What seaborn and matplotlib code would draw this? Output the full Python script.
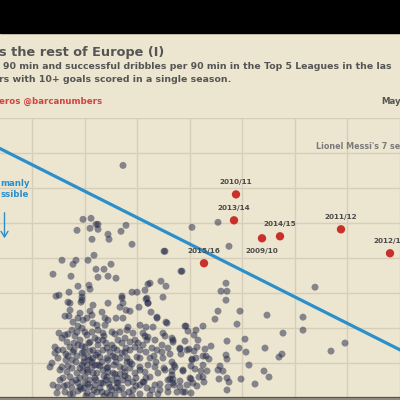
import numpy as np
import pandas as pd
import matplotlib
matplotlib.use("Agg")
import matplotlib.pyplot as plt
import seaborn as sns
from matplotlib.patches import Rectangle, FancyArrowPatch

# ---------------- data (chart units: x ~ goals/90 scale, y ~ dribbles/90 scale) -------------
other_x = [123, 83, 91, 77, 90, 96, 98, 98, 92, 108, 109, 121, 126, 132, 165, 192, 94,
           218, 229, 62, 76, 88, 73,
           53, 71, 96, 104, 111, 98, 108, 116, 78, 89, 90, 56, 59, 69, 82, 82, 122, 132, 137,
           148, 150, 161, 166, 164, 145, 181, 163, 147, 148,
           182, 226, 221, 227, 226, 315, 218, 215, 240, 267, 237, 303, 303, 203, 196, 186, 188,
           283, 245, 227, 345, 331, 172, 173, 185, 198, 194, 211, 205, 197, 194, 239, 246, 265,
           282, 279, 226, 227, 180, 181, 189, 192, 196, 203, 206, 209, 249, 220, 218, 223, 264,
           269, 174, 172, 183, 191, 195, 201, 203, 207, 227, 229, 219, 241, 255, 170, 173, 180,
           191, 199, 203, 204, 197, 174, 187, 183, 191, 227, 167, 157, 146,
           68, 70, 81, 82, 93, 108, 122, 123, 120, 126, 130, 139, 146, 148, 151, 70, 69, 80, 90,
           92, 102, 105, 108, 116, 123, 65,
           73, 78, 83, 93, 97, 59, 65, 72, 77, 82, 87, 98, 103, 112, 120, 127, 128, 133, 140, 143,
           148, 153, 157, 166, 163,
           55, 58, 55, 67, 70, 63, 73, 68, 80, 85, 90, 93, 82, 88, 98, 103, 107, 112, 117, 122,
           125, 130, 135, 140, 143, 147, 152, 157, 162, 168, 173, 100, 107, 115, 127, 137, 150,
           163, 52, 50,
           62, 67, 72, 77, 63, 70, 82, 87, 92, 93, 85, 90, 98, 103, 108, 113, 107, 117, 120, 125,
           130, 135, 140, 145, 150, 155, 158, 165, 172, 175, 123, 133, 143,
           53, 58, 57, 67, 72, 65, 73, 78, 80, 85, 90, 95, 87, 97, 103, 110, 117, 107, 122, 128,
           133, 140, 147, 155, 160, 168, 173, 177, 110, 140, 168,
           78, 84, 90, 96, 102, 108, 114, 120, 88, 95, 100, 112, 118, 125, 84, 76, 92, 104, 130,
           136, 72, 80, 98, 110, 118, 126, 92, 105, 87, 78, 95, 106, 84, 74, 115, 129, 60, 66,
           140, 146, 185, 180, 187, 192, 183, 190, 180, 193, 185,
           62, 68, 75, 85, 95, 104, 115, 125, 135, 145, 155, 165,
           58, 66, 74, 82, 90, 98, 106, 114, 122, 130, 138, 146, 154, 162, 170,
           60, 68, 76, 84, 92, 100, 108, 116, 124, 132, 140, 148, 156, 164, 172,
           64, 72, 80, 88, 96, 104, 112, 120, 128, 136, 144, 152, 160, 168,
           70, 78, 86, 94, 102, 116, 124, 132, 150, 158,
           77, 83, 89, 97, 103, 109, 113, 119, 127, 93, 87, 101, 81, 107, 115]
other_y = [233, 179, 180, 168, 170, 174, 174, 169, 159, 164, 159, 167, 173, 154, 147, 171, 143,
           176, 152, 138, 138, 138, 134,
           124, 122, 129, 129, 134, 121, 122, 120, 112, 113, 109, 102, 103, 106, 105, 101, 102, 106,
           106, 114, 115, 117, 112, 147, 108, 127, 101, 100, 95,
           127, 115, 107, 107, 98, 111, 87, 79, 87, 83, 74, 81, 68, 72, 68, 72, 67,
           65, 59, 57, 55, 47, 60, 56, 57, 58, 63, 52, 49, 51, 47, 50, 46, 50,
           44, 41, 43, 39, 49, 44, 49, 39, 40, 42, 42, 39, 33, 32, 28, 27, 27,
           21, 33, 27, 27, 32, 29, 27, 33, 27, 20, 16, 19, 19, 14, 19, 19, 17,
           19, 21, 21, 16, 12, 13, 13, 6, 5, 8, 75, 81, 71,
           96, 95, 96, 98, 93, 95, 100, 95, 91, 88, 87, 91, 99, 95, 86, 88, 82, 85, 87,
           83, 86, 80, 78, 80, 80, 82,
           76, 80, 78, 75, 73, 65, 63, 68, 66, 70, 63, 68, 65, 66, 66, 68, 71, 65, 73, 65,
           61, 71, 80, 76, 65,
           51, 48, 45, 56, 51, 48, 46, 42, 58, 51, 56, 48, 45, 41, 53, 58, 50, 53, 48, 55,
           46, 56, 51, 48, 53, 58, 50, 48, 53, 50, 58, 41, 40, 41, 40, 41, 40,
           40, 35, 31,
           31, 26, 30, 25, 20, 21, 33, 28, 31, 25, 21, 18, 33, 28, 31, 25, 21, 20, 31, 26,
           30, 25, 31, 26, 21, 31, 25, 28, 23, 31, 18, 16, 16,
           13, 11, 5, 13, 10, 6, 4, 15, 11, 15, 11, 13, 5, 6, 15, 11, 15, 5, 10, 15,
           8, 13, 10, 13, 8, 11, 15, 6, 3, 4, 6,
           53, 46, 38, 43, 36, 26, 33, 40, 26, 20, 10, 8, 15, 22, 10, 18, 3, 2, 36,
           20, 38, 30, 58, 46, 58, 50, 66, 73, 80, 72, 33, 18, 36, 55, 3, 6, 18, 38,
           40, 20, 72, 50, 48, 38, 28, 20, 11, 15, 6,
           60, 64, 62, 66, 60, 62, 64, 60, 58, 62, 58, 62,
           40, 44, 48, 52, 47, 45, 55, 50, 45, 48, 55, 46, 42, 46, 44,
           28, 32, 36, 40, 36, 32, 38, 36, 30, 34, 28, 33, 36, 30, 36,
           12, 16, 20, 14, 18, 22, 18, 24, 20, 12, 16, 8, 14, 18,
           4, 7, 2, 8, 6, 10, 4, 2, 3, 4,
           42, 27, 55, 25, 48, 14, 42, 8, 36, 40, 33, 15, 9, 30, 24]

messi_seasons = ["2009/10", "2010/11", "2011/12", "2012/13", "2013/14", "2014/15", "2015/16"]
messi_x = [262, 236, 341, 390, 234, 280, 204]
messi_y = [160, 204, 169, 145, 178, 162, 135]
label_below = [True, False, False, False, False, False, False]

trend_x = [-30, 460]
trend_y = [265, 18]

# ---------------- style ----------------
BG = "#ECE5CF"
GRID = "#D6CEB9"
BLUE = "#2B8FCB"
RED = "#C9302C"
NAVY = "#1E2446"
DARK = "#4A4A4A"
TXT = "#555555"

sns.set_theme(style="white")
plt.rcParams["font.family"] = ["DejaVu Sans"]

fig = plt.figure(figsize=(4, 4), dpi=100, facecolor=BG)
ax = fig.add_axes([0, 2 / 400, 1, 280 / 400])
ax.set_facecolor(BG)

others = pd.DataFrame({"x": other_x, "y": other_y})
messi = pd.DataFrame({"x": messi_x, "y": messi_y, "season": messi_seasons})
trend = pd.DataFrame({"x": trend_x, "y": trend_y})

sns.scatterplot(data=others, x="x", y="y", ax=ax, color=NAVY, alpha=0.5, s=25,
                edgecolor="none", zorder=3)
sns.lineplot(data=trend, x="x", y="y", ax=ax, color=BLUE, linewidth=2.3, zorder=4)
sns.scatterplot(data=messi, x="x", y="y", ax=ax, color=RED, s=36, edgecolor="none", zorder=5)

for sx, sy, lab, below in zip(messi_x, messi_y, messi_seasons, label_below):
    off = -13 if below else 12
    ax.annotate(lab, (sx, sy), xytext=(0, off * 0.72), textcoords="offset points",
                ha="center", va="center", fontsize=5.2, fontweight="bold", color=DARK,
                zorder=6, annotation_clip=False)

ax.set_xlim(0, 400)
ax.set_ylim(0, 280.5)
ax.set_xticks(np.arange(32, 401, 52.5))
ax.set_yticks(np.arange(0, 281, 35))
ax.grid(True, color=GRID, linewidth=1.0, zorder=0)
ax.set_axisbelow(True)
ax.tick_params(left=False, bottom=False, labelleft=False, labelbottom=False)
ax.set_xlabel("")
ax.set_ylabel("")
for side in ["top", "left", "right"]:
    ax.spines[side].set_visible(False)
ax.spines["bottom"].set_color("#454545")
ax.spines["bottom"].set_linewidth(1.6)

# frame pieces
fig.patches.append(Rectangle((0, 1 - 33 / 400), 1, 33 / 400, transform=fig.transFigure,
                             color="black", zorder=0))
fig.patches.append(Rectangle((0, 0), 1, 2 / 400, transform=fig.transFigure,
                             color="#8E8A80", zorder=0))

def ft(x, y, s, **kw):
    fig.text(x / 400, 1 - y / 400, s, **kw)

ft(-1, 52.5, "s the rest of Europe (I)", fontsize=9.3, fontweight="bold", color=TXT,
   va="center", ha="left")
ft(3, 66.5, "90 min and successful dribbles per 90 min in the Top 5 Leagues in the las",
   fontsize=6.75, fontweight="bold", color=TXT, va="center", ha="left")
ft(-1, 79.5, "rs with 10+ goals scored in a single season.", fontsize=6.75, fontweight="bold",
   color=TXT, va="center", ha="left")
ft(-1, 101.5, "eros @barcanumbers", fontsize=6.2, fontweight="bold", color="#D04343",
   va="center", ha="left")
ft(381, 101.5, "May", fontsize=6.2, fontweight="bold", color=TXT,
   va="center", ha="left")
ft(316, 147, "Lionel Messi's 7 se", fontsize=5.8, fontweight="bold", color="#7A7A7A",
   va="center", ha="left")
ft(0.5, 183.5, "manly", fontsize=6.2, fontweight="bold", color=BLUE, va="center", ha="left")
ft(0.5, 194.5, "ssible", fontsize=6.2, fontweight="bold", color=BLUE, va="center", ha="left")

fig.add_artist(FancyArrowPatch(
    (4.5 / 400, 1 - 210 / 400), (4.5 / 400, 1 - 241 / 400), transform=fig.transFigure,
    arrowstyle="->,head_length=4,head_width=2.5", color=BLUE, linewidth=1.0))

fig.savefig("out.png", dpi=100, facecolor=BG)
